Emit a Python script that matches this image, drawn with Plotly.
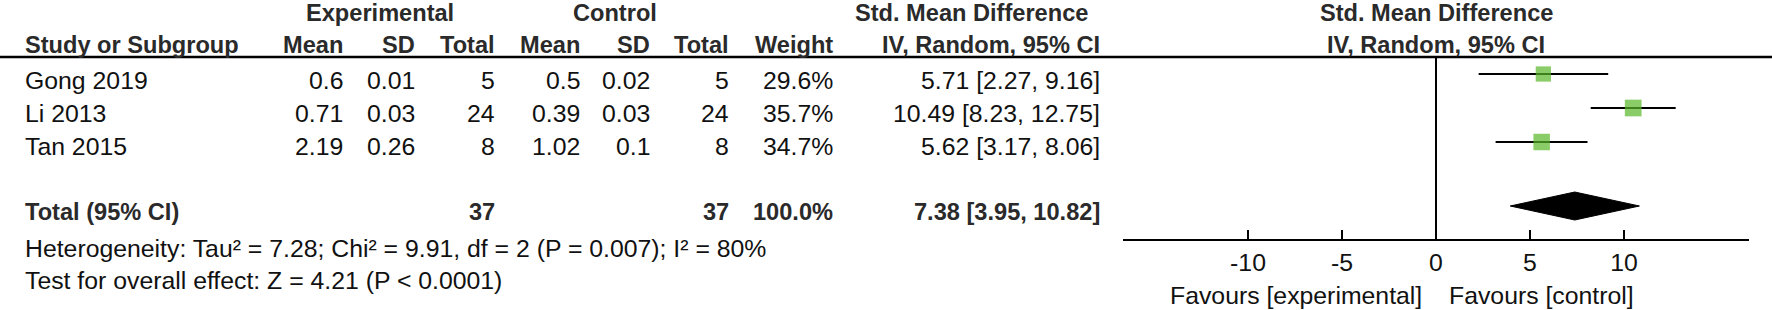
import plotly.graph_objects as go

W, H = 1772, 310

# ---- data ----
studies = ["Gong 2019", "Li 2013", "Tan 2015"]
exp_mean = [0.6, 0.71, 2.19]
exp_sd = [0.01, 0.03, 0.26]
exp_n = [5, 24, 8]
ctl_mean = [0.5, 0.39, 1.02]
ctl_sd = [0.02, 0.03, 0.1]
ctl_n = [5, 24, 8]
weight = [29.6, 35.7, 34.7]
smd = [5.71, 10.49, 5.62]
ci_lo = [2.27, 8.23, 3.17]
ci_hi = [9.16, 12.75, 8.06]
total_label = "Total (95% CI)"
total_exp_n = 37
total_ctl_n = 37
total_weight = 100.0
total_smd = 7.38
total_lo = 3.95
total_hi = 10.82
heterogeneity = "Heterogeneity: Tau\u00b2 = 7.28; Chi\u00b2 = 9.91, df = 2 (P = 0.007); I\u00b2 = 80%"
overall = "Test for overall effect: Z = 4.21 (P < 0.0001)"
axis_ticks = [-10, -5, 0, 5, 10]
favours_left = "Favours [experimental]"
favours_right = "Favours [control]"

# ---- layout constants (pixels) ----
FONT = "Liberation Sans, Arial, sans-serif"
FS = 24.8
FSB = 23.6
TXT = "#111111"
BOLD = "#2a2a2a"
GREEN = "#58B726"
row_text_y = [80.5, 113.5, 147.0]
row_mark_y = [74, 108, 142]
total_text_y = 212
diamond_y = 206
diamond_half = 14
het_y = 248
test_y = 280
head1_y = 13
head2_y = 45
line_y = 57
axis_y = 239
fav_y = 295

X_FOREST0, X_FOREST1 = 1123, 1749
XR = 16.65

def px(x):
    return x / W

def py(y):
    return 1 - y / H

ann = []

def text(x, y, s, anchor="right", bold=False):
    ann.append(dict(
        x=px(x), y=py(y), xref="paper", yref="paper", text=s,
        showarrow=False, xanchor=anchor, yanchor="middle",
        font=dict(family=FONT, size=FSB if bold else FS, color=BOLD if bold else TXT),
    ))

# headers
text(380, head1_y, "<b>Experimental</b>", "center", True)
text(615, head1_y, "<b>Control</b>", "center", True)
text(1090, head1_y, "<b>Std. Mean Difference</b>", "right", True)
text(1436, head1_y, "<b>Std. Mean Difference</b>", "center", True)
text(23, head2_y, "<b>Study or Subgroup</b>", "left", True)
col_right = {"em": 345, "es": 417, "en": 497, "cm": 582, "cs": 652, "cn": 731, "w": 835, "ci": 1102}
for key, lab in [("em", "Mean"), ("es", "SD"), ("en", "Total"), ("cm", "Mean"),
                 ("cs", "SD"), ("cn", "Total"), ("w", "Weight"), ("ci", "IV, Random, 95% CI")]:
    text(col_right[key], head2_y, f"<b>{lab}</b>", "right", True)
text(1436, head2_y, "<b>IV, Random, 95% CI</b>", "center", True)

# study rows
for i, s in enumerate(studies):
    y = row_text_y[i]
    text(23, y, s, "left")
    text(col_right["em"], y, f"{exp_mean[i]:g}")
    text(col_right["es"], y, f"{exp_sd[i]:g}")
    text(col_right["en"], y, f"{exp_n[i]}")
    text(col_right["cm"], y, f"{ctl_mean[i]:g}")
    text(col_right["cs"], y, f"{ctl_sd[i]:g}")
    text(col_right["cn"], y, f"{ctl_n[i]}")
    text(col_right["w"], y, f"{weight[i]:.1f}%")
    text(col_right["ci"], y, f"{smd[i]:.2f} [{ci_lo[i]:.2f}, {ci_hi[i]:.2f}]")

# total row
text(23, total_text_y, f"<b>{total_label}</b>", "left", True)
text(col_right["en"], total_text_y, f"<b>{total_exp_n}</b>", "right", True)
text(col_right["cn"], total_text_y, f"<b>{total_ctl_n}</b>", "right", True)
text(col_right["w"], total_text_y, f"<b>{total_weight:.1f}%</b>", "right", True)
text(col_right["ci"], total_text_y, f"<b>{total_smd:.2f} [{total_lo:.2f}, {total_hi:.2f}]</b>", "right", True)

text(23, het_y, heterogeneity, "left")
text(23, test_y, overall, "left")

text(1424, fav_y, favours_left, "right")
text(1447, fav_y, favours_right, "left")

fig = go.Figure()

# whiskers
for i in range(len(studies)):
    fig.add_trace(go.Scatter(
        x=[ci_lo[i], ci_hi[i]], y=[row_mark_y[i], row_mark_y[i]],
        mode="lines", line=dict(color="black", width=2.2),
        hoverinfo="skip", showlegend=False))

# squares (size proportional to sqrt of weight)
sizes = [2.8 * (w ** 0.5) for w in weight]
fig.add_trace(go.Scatter(
    x=smd, y=row_mark_y, mode="markers",
    marker=dict(symbol="square", size=sizes, color=GREEN,
                line=dict(width=0)),
    hoverinfo="skip", showlegend=False))

# diamond
fig.add_trace(go.Scatter(
    x=[total_lo, total_smd, total_hi, total_smd, total_lo],
    y=[diamond_y, diamond_y - diamond_half, diamond_y, diamond_y + diamond_half, diamond_y],
    mode="lines", fill="toself", fillcolor="black",
    line=dict(color="black", width=1),
    hoverinfo="skip", showlegend=False))

shapes = [
    # header rule
    dict(type="line", xref="paper", yref="paper", x0=0, x1=1,
         y0=py(line_y), y1=py(line_y), line=dict(color="black", width=2.5)),
    # line of no effect
    dict(type="line", xref="x", yref="y", x0=0, x1=0, y0=line_y, y1=axis_y,
         line=dict(color="black", width=2)),
]

fig.update_layout(
    width=W, height=H,
    margin=dict(l=0, r=0, t=0, b=0),
    paper_bgcolor="white", plot_bgcolor="white",
    annotations=ann, shapes=shapes,
    hovermode=False,
    xaxis=dict(
        domain=[px(X_FOREST0), px(X_FOREST1)], range=[-XR, XR],
        tickvals=axis_ticks, ticktext=[str(t) for t in axis_ticks],
        ticks="inside", ticklen=9, tickwidth=2, tickcolor="black",
        showline=True, linewidth=2, linecolor="black",
        showgrid=False, zeroline=False, fixedrange=True,
        tickfont=dict(family=FONT, size=FS, color=TXT),
        anchor="y",
    ),
    yaxis=dict(
        domain=[1 - axis_y / H, 1 - line_y / H], range=[axis_y, line_y],
        visible=False, showgrid=False, zeroline=False, fixedrange=True,
    ),
)

fig.write_html(
    "out.html",
    config={"displayModeBar": False, "staticPlot": True},
    post_script="document.body.style.margin='0';document.body.style.overflow='hidden';",
)
